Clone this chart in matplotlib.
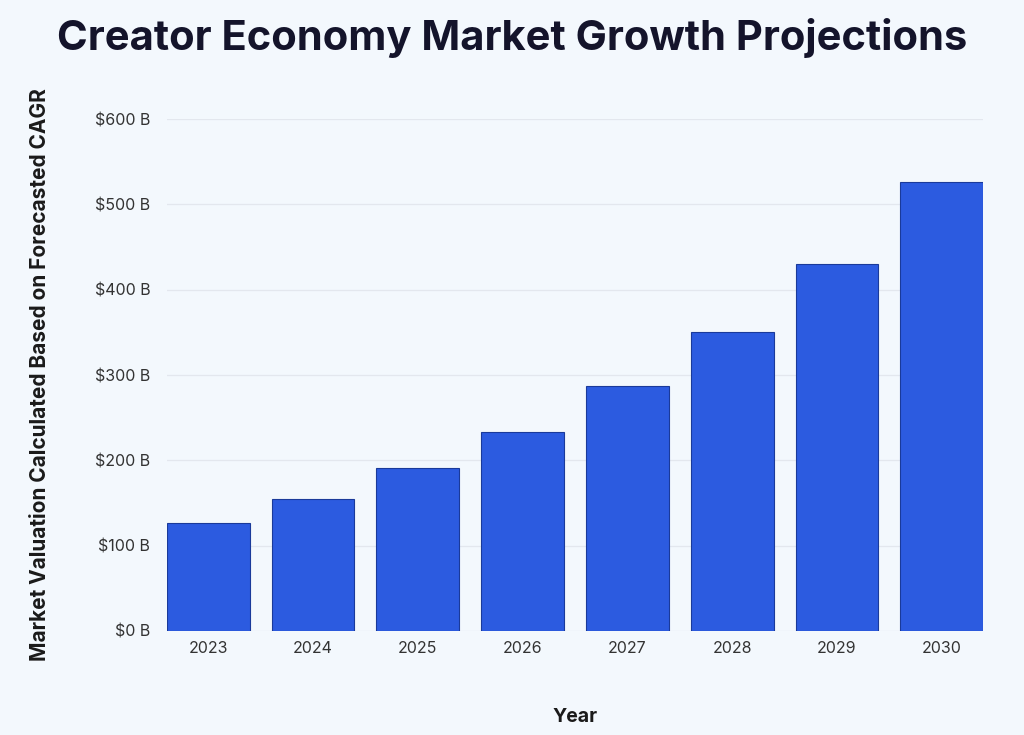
import matplotlib
matplotlib.use('Agg')
import matplotlib.pyplot as plt
from matplotlib.ticker import FuncFormatter

years = ['2023', '2024', '2025', '2026', '2027', '2028', '2029', '2030']
valuation = [126, 155, 191, 233, 287, 350, 430, 526]

bg = '#f3f8fd'
bar_color = '#2c5be0'

plt.rcParams['font.family'] = ['Inter', 'DejaVu Sans']

fig = plt.figure(figsize=(10.24, 7.35), dpi=100, facecolor=bg)
ax = fig.add_axes([0.163, 0.1415, 0.797, 0.6965])
ax.set_facecolor(bg)

x = range(len(years))
ax.bar(x, valuation, width=0.79, color=bar_color, edgecolor='#1a3a9a', linewidth=0.8, zorder=3)

ax.set_xlim(-0.395, len(years) - 1 + 0.395)
ax.set_ylim(0, 600)
ax.set_yticks(range(0, 601, 100))
ax.yaxis.set_major_formatter(FuncFormatter(lambda v, p: f'${int(v)} B'))
ax.set_xticks(list(x))
ax.set_xticklabels(years)

ax.grid(axis='y', color='#e3e7ee', linewidth=0.9, zorder=0)
for s in ax.spines.values():
    s.set_visible(False)
ax.tick_params(axis='both', length=0, labelsize=11.5, colors='#333333')
ax.tick_params(axis='y', pad=12)
ax.tick_params(axis='x', pad=7)

ax.set_ylabel('Market Valuation Calculated Based on Forecasted CAGR', fontsize=15,
              fontweight='bold', color='#1a1a1a', labelpad=32)
ax.set_xlabel('Year', fontsize=14, fontweight='bold', color='#1a1a1a', labelpad=38)

fig.text(0.5, 0.948, 'Creator Economy Market Growth Projections', ha='center', va='center',
         fontsize=30, fontweight='bold', color='#14142b')

fig.savefig('out.png', dpi=100, facecolor=bg)
